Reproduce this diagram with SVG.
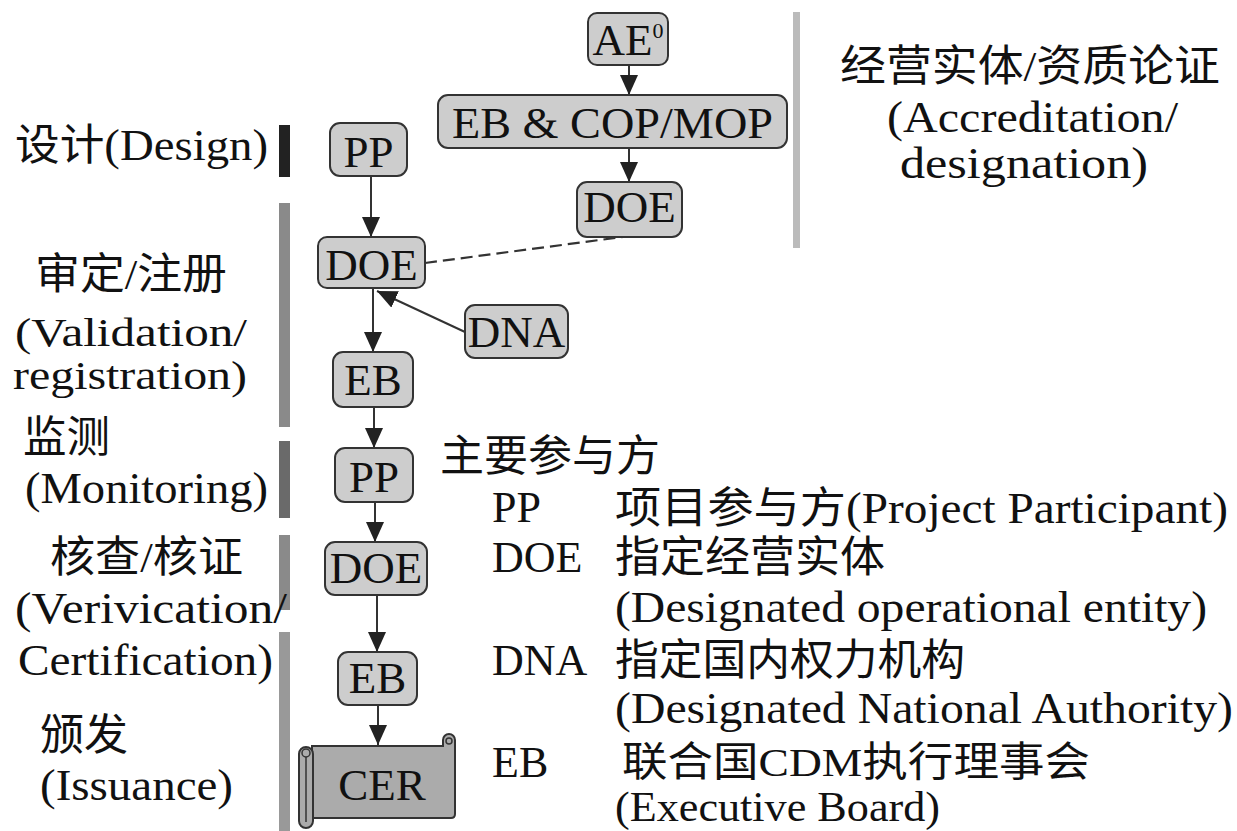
<svg xmlns="http://www.w3.org/2000/svg" width="1237" height="831" viewBox="0 0 1237 831">
<style>
.t{font-family:"Liberation Serif","Noto Sans CJK SC",serif;fill:#111}
.lbl{font-size:45px}
.lbs{font-size:40px}
.cjk{font-size:43px}
.leg{font-size:44px}
.nd rect.b{fill:#cdcdcd;stroke:#333;stroke-width:2}
.nt{font-family:"Liberation Serif",serif;font-size:45px;text-anchor:middle;fill:#111}
.conn line{stroke:#333;stroke-width:2;marker-end:url(#ah)}
.dash{stroke:#333;stroke-width:2.2;stroke-dasharray:12 6;fill:none}
.scr{fill:#ababab;stroke:#333;stroke-width:2}
</style>
<defs>
<marker id="ah" viewBox="0 0 20 18" refX="20" refY="9" markerWidth="20" markerHeight="18" markerUnits="userSpaceOnUse" orient="auto">
<path d="M0,0 L20,9 L0,18 Z" fill="#222"/>
</marker>
</defs>
<rect width="1237" height="831" fill="#fff"/>

<g id="phase-bars">
<rect x="279" y="125" width="11" height="52" fill="#222"/>
<rect x="279" y="203" width="11" height="224" fill="#8a8a8a"/>
<rect x="279" y="441" width="11" height="77" fill="#6a6a6a"/>
<rect x="279" y="535" width="11" height="75" fill="#8a8a8a"/>
<rect x="279" y="632" width="11" height="199" fill="#999"/>
<rect x="793" y="12" width="7" height="236" fill="#bbb"/>
</g>

<g id="phase-labels" class="t">
<text class="lbl" x="15" y="160" textLength="253" lengthAdjust="spacingAndGlyphs"><tspan class="cjk">设计</tspan>(Design)</text>
<text class="cjk" x="35" y="289" textLength="192" lengthAdjust="spacingAndGlyphs">审定/注册</text>
<text class="lbs" x="15" y="346" textLength="232" lengthAdjust="spacingAndGlyphs">(Validation/</text>
<text class="lbs" x="13" y="389" textLength="234" lengthAdjust="spacingAndGlyphs">registration)</text>
<text class="cjk" x="23" y="452" textLength="87" lengthAdjust="spacingAndGlyphs">监测</text>
<text class="lbl" x="25" y="503" textLength="243" lengthAdjust="spacingAndGlyphs">(Monitoring)</text>
<text class="cjk" x="50" y="572" textLength="193" lengthAdjust="spacingAndGlyphs">核查/核证</text>
<text class="lbl" x="15" y="623" textLength="272" lengthAdjust="spacingAndGlyphs">(Verivication/</text>
<text class="lbl" x="18" y="675" textLength="255" lengthAdjust="spacingAndGlyphs">Certification)</text>
<text class="cjk" x="40" y="750" textLength="88" lengthAdjust="spacingAndGlyphs">颁发</text>
<text class="lbl" x="40" y="800" textLength="193" lengthAdjust="spacingAndGlyphs">(Issuance)</text>
</g>

<g id="accreditation-label" class="t">
<text class="cjk" x="840" y="81" textLength="380" lengthAdjust="spacingAndGlyphs">经营实体/资质论证</text>
<text class="lbl" x="887" y="132" textLength="291" lengthAdjust="spacingAndGlyphs">(Accreditation/</text>
<text class="lbl" x="900" y="178" textLength="248" lengthAdjust="spacingAndGlyphs">designation)</text>
</g>

<g id="connectors">
<g class="conn">
<line x1="629" y1="65" x2="629" y2="95"/>
<line x1="629" y1="148" x2="629" y2="182"/>
<line x1="371" y1="176" x2="371" y2="237"/>
<line x1="373" y1="288" x2="373" y2="352"/>
<line x1="465" y1="332" x2="377" y2="291"/>
<line x1="374" y1="407" x2="374" y2="448"/>
<line x1="375" y1="502" x2="375" y2="542"/>
<line x1="377" y1="595" x2="377" y2="652"/>
<line x1="378" y1="705" x2="378" y2="745"/>
</g>
<path class="dash" d="M425,263 L630,236"/>
</g>

<g id="node-ae" class="nd"><rect class="b" x="588" y="13" width="80" height="52" rx="9"/><text class="nt" x="628" y="55">AE<tspan font-size="22" dy="-17">0</tspan></text></g>
<g id="node-eb-cop-mop" class="nd"><rect class="b" x="438" y="95" width="349" height="53" rx="10"/><text class="nt" x="612.5" y="138" textLength="321" lengthAdjust="spacingAndGlyphs">EB &amp; COP/MOP</text></g>
<g id="node-doe-accr" class="nd"><rect class="b" x="577" y="182" width="105" height="55" rx="10"/><text class="nt" x="629.5" y="222">DOE</text></g>
<g id="node-pp-design" class="nd"><rect class="b" x="330" y="123" width="77" height="53" rx="10"/><text class="nt" x="368.5" y="167">PP</text></g>
<g id="node-doe-valid" class="nd"><rect class="b" x="318" y="237" width="107" height="51" rx="9"/><text class="nt" x="371.5" y="280">DOE</text></g>
<g id="node-dna" class="nd"><rect class="b" x="465" y="305" width="103" height="53" rx="10"/><text class="nt" x="516.5" y="347">DNA</text></g>
<g id="node-eb-reg" class="nd"><rect class="b" x="333" y="352" width="80" height="55" rx="10"/><text class="nt" x="373" y="395">EB</text></g>
<g id="node-pp-mon" class="nd"><rect class="b" x="335" y="448" width="78" height="54" rx="10"/><text class="nt" x="374" y="492">PP</text></g>
<g id="node-doe-ver" class="nd"><rect class="b" x="325" y="542" width="102" height="53" rx="10"/><text class="nt" x="376" y="583">DOE</text></g>
<g id="node-eb-iss" class="nd"><rect class="b" x="338" y="652" width="79" height="53" rx="10"/><text class="nt" x="377.5" y="693">EB</text></g>
<g id="node-cer" class="nd">
<path class="scr" d="M443,746 V740 A6,6 0 0 1 455,740 V814 Q455,818 451,818 H312 V746 Z"/>
<circle cx="449" cy="741" r="3" fill="#ababab" stroke="#333" stroke-width="1.5"/>
<rect class="scr" x="299" y="747" width="14" height="81" rx="7"/>
<line x1="306" y1="756" x2="306" y2="822" stroke="#333" stroke-width="1.5"/>
<circle cx="306" cy="753" r="4" fill="#ababab" stroke="#333" stroke-width="1.5"/>
<text class="nt" x="382" y="800">CER</text>
</g>

<g id="legend" class="t">
<text class="cjk" x="440" y="471" textLength="220" lengthAdjust="spacingAndGlyphs">主要参与方</text>
<text class="leg" x="492" y="522">PP</text>
<text class="leg" x="615" y="523" textLength="613" lengthAdjust="spacingAndGlyphs"><tspan class="cjk">项目参与方</tspan>(Project Participant)</text>
<text class="leg" x="492" y="572">DOE</text>
<text class="cjk" x="615" y="572" textLength="270" lengthAdjust="spacingAndGlyphs">指定经营实体</text>
<text class="leg" x="615" y="622" textLength="592" lengthAdjust="spacingAndGlyphs">(Designated operational entity)</text>
<text class="leg" x="492" y="675">DNA</text>
<text class="cjk" x="615" y="675" textLength="350" lengthAdjust="spacingAndGlyphs">指定国内权力机构</text>
<text class="leg" x="615" y="723" textLength="618" lengthAdjust="spacingAndGlyphs">(Designated National Authority)</text>
<text class="leg" x="492" y="777">EB</text>
<text x="622" y="776" textLength="468" lengthAdjust="spacingAndGlyphs" font-size="41"><tspan>联合国</tspan>CDM<tspan>执行理事会</tspan></text>
<text x="615" y="821" textLength="325" lengthAdjust="spacingAndGlyphs" font-size="42">(Executive Board)</text>
</g>
</svg>
